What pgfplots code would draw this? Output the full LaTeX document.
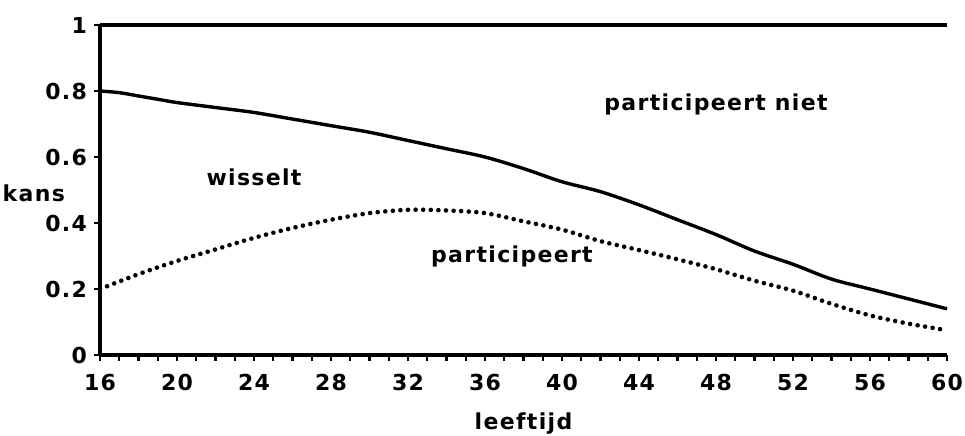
\documentclass[border=0pt]{standalone}
\usepackage{fontspec}
\setmainfont{DejaVu Sans}[LetterSpace=6]
\usepackage{pgfplots}
\pgfplotsset{compat=1.18}
\begin{document}
\begin{tikzpicture}
\begin{axis}[
  name=ax,
  scale only axis,
  width=423.5pt, height=165pt,
  xmin=16, xmax=60, ymin=0, ymax=1,
  axis lines=left,
  axis line style={line width=2pt, -},
  clip=false,
  xtick={16,20,...,60},
  minor xtick={17,...,59},
  ytick={0,0.2,0.4,0.6,0.8,1},
  yticklabels={0,0.2,0.4,0.6,0.8,1},
  tick align=outside,
  major tick length=3pt,
  minor tick length=3pt,
  every tick/.style={line width=1.2pt, black},
  tick label style={font=\fontsize{11}{13}\selectfont\bfseries},
  /pgf/number format/assume math mode=true,
  xticklabel style={yshift=-3pt},
  xlabel={\bfseries leeftijd},
  xlabel style={font=\fontsize{11}{13}\selectfont, yshift=-4pt},
]
\addplot[black, line width=2pt] coordinates {(16,1) (60,1)};
\addplot[black, line width=1.7pt, smooth] coordinates {
(16,0.80) (17,0.795) (18,0.785) (19,0.775) (20,0.765) (22,0.75) (24,0.735)
(26,0.715) (28,0.695) (30,0.675) (32,0.65) (34,0.625) (36,0.60) (38,0.565)
(40,0.525) (42,0.495) (44,0.455) (46,0.41) (48,0.365) (50,0.315) (52,0.275)
(54,0.23) (56,0.20) (58,0.17) (60,0.14)};
\addplot[black, line width=2.3pt, line cap=round, dash pattern=on 0pt off 3.8pt, smooth] coordinates {
(16,0.20) (18,0.245) (20,0.285) (22,0.32) (24,0.355) (26,0.385) (28,0.41)
(30,0.43) (32,0.44) (34,0.438) (36,0.43) (38,0.405) (40,0.38) (42,0.345)
(44,0.318) (46,0.29) (48,0.26) (50,0.225) (52,0.195) (54,0.155) (56,0.12)
(58,0.095) (60,0.075)};
\node[font=\fontsize{11}{13}\selectfont\bfseries] at (axis cs:48,0.76) {participeert niet};
\node[font=\fontsize{11}{13}\selectfont\bfseries] at (axis cs:37.4,0.30) {participeert};
\node[font=\fontsize{11}{13}\selectfont\bfseries] at (axis cs:24,0.54) {wisselt};
\node[font=\fontsize{11}{13}\selectfont\bfseries, anchor=east] at ([xshift=-14pt]axis cs:16,0.49) {kans};
\end{axis}
\pgfresetboundingbox
\path (ax.south west) ++(-50pt,-40pt) rectangle ([shift={(9pt,12.5pt)}]ax.north east);
\end{tikzpicture}
\end{document}
